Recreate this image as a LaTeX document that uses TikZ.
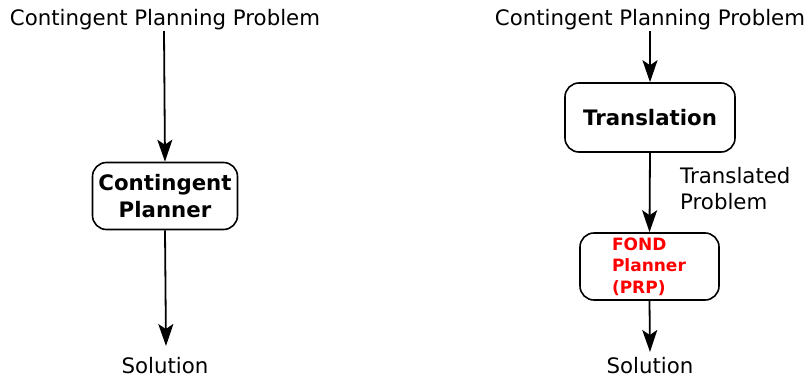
\documentclass[tikz,border=0pt]{standalone}
\usepackage{fontspec}
\setmainfont{DejaVu Sans}
\usetikzlibrary{arrows.meta,positioning}
\definecolor{fondred}{RGB}{255,0,0}
\tikzset{
    label/.style =  {text=black,
                    font=\fontsize{21.3}{26}\selectfont,
                    inner sep=0pt},
    box/.style =    {rectangle,
                    rounded corners=14pt,
                    fill=white,
                    draw=black,
                    text=black,
                    line width=1.6pt,
                    align=center,
                    font=\fontsize{21.3}{27}\selectfont\bfseries},
    fond/.style =   {box,
                    text=fondred,
                    align=left,
                    font=\fontsize{17}{21.5}\selectfont\bfseries},
    flow/.style =   {line width=1.8pt,
                    -{Stealth[length=22pt,width=15pt,inset=5pt]}},
    }

\begin{document}
\begin{tikzpicture}[x=1pt,y=-1pt]
                \useasboundingbox (0,0) rectangle (804,378);
                % contingent planner on its own
                \node[label]    (P1) at (165,20)    {Contingent Planning Problem};
                \node[box, minimum width=145pt, minimum height=67pt]
                                (CP) at (165,196)   {Contingent\\Planner};
                \node[label]    (S1) at (165,366)   {Solution};
                \draw[flow]     (164,31) -- (CP.north);
                \draw[flow]     (CP.south) -- (166,346);
                % translation into a FOND problem
                \node[label]    (P2) at (650,20)    {Contingent Planning Problem};
                \node[box, minimum width=170pt, minimum height=69pt]
                                (TR) at (650,117.5) {Translation};
                \node[fond, minimum width=139pt, minimum height=67pt, text width=75pt]
                                (FP) at (649.5,266.5) {FOND\\Planner\\(PRP)};
                \node[label, align=left, anchor=west]
                                (TP) at (680,189)   {Translated\\Problem};
                \node[label]    (S2) at (650,366)   {Solution};
                \draw[flow]     (650,31) -- (TR.north);
                \draw[flow]     (TR.south) -- (FP.north);
                \draw[flow]     (FP.south) -- (650,352);
        \end{tikzpicture}
\end{document}
